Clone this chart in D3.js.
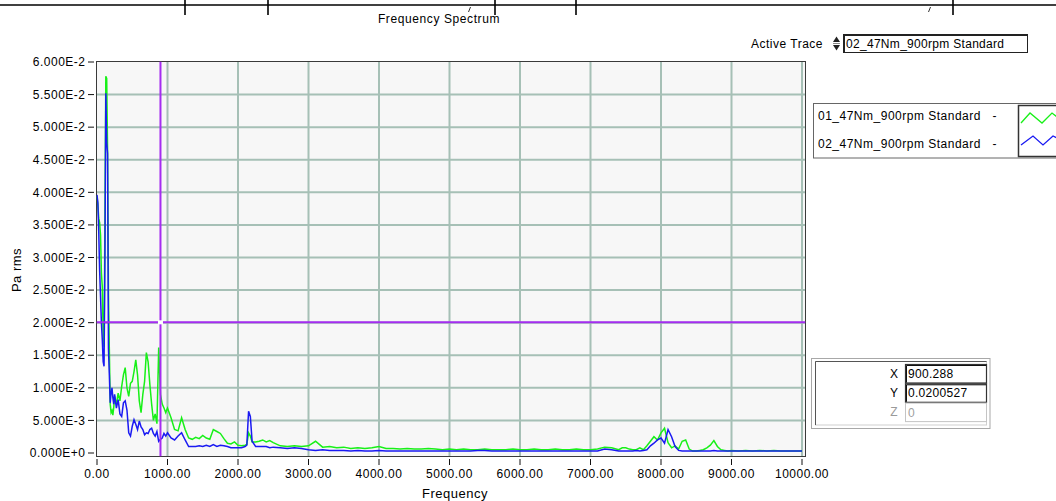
<!DOCTYPE html>
<html><head><meta charset="utf-8">
<script src="https://cdn.jsdelivr.net/npm/d3@7"></script>
<style>
html,body{margin:0;padding:0;background:#fff;}
svg{display:block;font-family:"Liberation Sans",Arial,sans-serif;}
</style></head><body>
<svg id="c" width="1056" height="501"></svg>
<script>
// ---------- data ----------
const freqHz = [
0,12.5,25,37.5,50,62.5,75,87.5,100,112.5,125,137.5,150,162.5,175,187.5,200,212.5,225,237.5,
250,275,300,325,350,375,400,425,450,475,500,525,550,575,600,625,650,675,700,725,750,775,800,825,850,875,900,925,950,975,
1000,1050,1100,1150,1200,1250,1300,1350,1400,1450,1500,1550,1600,1650,1700,1750,1800,1850,1900,1950,2000,2050,2100,2125,2150,2175,2200,2250,2300,2350,2400,2450,
2500,2600,2700,2800,2900,3000,3100,3200,3300,3400,3500,3600,3700,3800,3900,4000,4100,4200,4300,4400,4500,4600,4700,4800,4900,
5000,5100,5200,5300,5400,5500,5600,5700,5800,5900,6000,6100,6200,6300,6400,6500,6600,6700,6800,6900,7000,7100,7200,7300,
7400,7450,7500,7550,7600,7650,7700,7750,7800,7850,7900,7950,8000,8050,8100,8150,8200,8250,8300,8350,8400,8450,8500,8550,8600,8650,8700,8750,8800,8850,8900,8950,
9000,9100,9200,9300,9400,9500,9600,9700,9800,9900,10000];

// 01_47Nm_900rpm Standard (green)
const trace01 = [
0.0394,0.0380,0.0360,0.0353,0.0335,0.0276,0.0255,0.0180,0.0163,0.0360,0.0578,0.0575,0.0465,0.0246,0.0159,0.0075,0.0062,0.0065,0.0058,0.0070,
0.0087,0.0075,0.0092,0.0080,0.0102,0.0120,0.0131,0.0100,0.0087,0.0107,0.0110,0.0125,0.0143,0.0120,0.0080,0.0062,0.0090,0.0110,0.0154,0.0140,0.0105,0.0075,0.0050,0.0060,0.0045,0.0162,0.0090,0.0075,0.0069,0.0062,
0.0069,0.0054,0.0036,0.0034,0.0054,0.0036,0.0023,0.0021,0.0024,0.0022,0.0027,0.0023,0.0021,0.0036,0.0033,0.0030,0.0022,0.0015,0.0014,0.0017,0.0012,0.0011,0.0012,0.0013,0.0031,0.0026,0.0017,0.0017,0.0018,0.0020,0.0017,0.0019,
0.0016,0.0011,0.0010,0.0011,0.0010,0.0011,0.0018,0.0009,0.0010,0.0008,0.0009,0.0007,0.0008,0.0007,0.0008,0.0010,0.0007,0.0007,0.0006,0.0007,0.0006,0.0006,0.0007,0.0006,0.0005,
0.0006,0.0005,0.0006,0.0005,0.0005,0.0006,0.0005,0.0005,0.0005,0.0006,0.0005,0.0005,0.0006,0.0005,0.0005,0.0006,0.0005,0.0005,0.0006,0.0005,0.0005,0.0006,0.0009,0.0008,
0.0005,0.0008,0.0008,0.0006,0.0005,0.0005,0.0008,0.0005,0.0011,0.0018,0.0025,0.0020,0.0031,0.0038,0.0016,0.0008,0.0011,0.0006,0.0018,0.0020,0.0006,0.0003,0.0003,0.0004,0.0005,0.0008,0.0012,0.0019,0.0010,0.0005,0.0004,0.0003,
0.0004,0.0003,0.0004,0.0003,0.0004,0.0003,0.0004,0.0003,0.0003,0.0003,0.0003];

// 02_47Nm_900rpm Standard (blue)
const trace02 = [
0.0396,0.0384,0.0338,0.0280,0.0240,0.0200,0.0174,0.0140,0.0133,0.0300,0.0552,0.0476,0.0460,0.0160,0.0120,0.0077,0.0092,0.0100,0.0085,0.0075,
0.0090,0.0069,0.0082,0.0060,0.0056,0.0077,0.0080,0.0066,0.0031,0.0026,0.0041,0.0051,0.0044,0.0036,0.0049,0.0040,0.0036,0.0028,0.0031,0.0030,0.0036,0.0038,0.0030,0.0026,0.0033,0.0018,0.0021,0.0023,0.0030,0.0026,
0.0031,0.0023,0.0020,0.0026,0.0031,0.0020,0.0010,0.0010,0.0010,0.0011,0.0010,0.0012,0.0010,0.0013,0.0010,0.0012,0.0011,0.0010,0.0008,0.0008,0.0008,0.0008,0.0010,0.0012,0.0064,0.0056,0.0018,0.0010,0.0010,0.0010,0.0010,0.0008,
0.0009,0.0008,0.0007,0.0008,0.0007,0.0005,0.0004,0.0005,0.0004,0.0004,0.0004,0.0003,0.0004,0.0003,0.0003,0.0004,0.0003,0.0003,0.0003,0.0003,0.0003,0.0003,0.0003,0.0003,0.0003,
0.0003,0.0003,0.0003,0.0003,0.0004,0.0004,0.0003,0.0003,0.0003,0.0003,0.0003,0.0003,0.0003,0.0003,0.0003,0.0003,0.0003,0.0003,0.0003,0.0003,0.0003,0.0003,0.0006,0.0005,
0.0003,0.0003,0.0003,0.0003,0.0003,0.0004,0.0003,0.0004,0.0005,0.0011,0.0015,0.0020,0.0023,0.0015,0.0036,0.0025,0.0010,0.0004,0.0003,0.0003,0.0003,0.0003,0.0003,0.0003,0.0003,0.0003,0.0003,0.0004,0.0003,0.0003,0.0003,0.0003,
0.0003,0.0003,0.0003,0.0003,0.0003,0.0003,0.0003,0.0003,0.0003,0.0003,0.0003];

const seriesNames = ["01_47Nm_900rpm Standard", "02_47Nm_900rpm Standard"];
const seriesColors = ["#18f018", "#1a1af2"];
const xTicks = [0,1000,2000,3000,4000,5000,6000,7000,8000,9000,10000];
const xTickLabels = ["0.00","1000.00","2000.00","3000.00","4000.00","5000.00","6000.00","7000.00","8000.00","9000.00","10000.00"];
const yTicks = [0,0.005,0.01,0.015,0.02,0.025,0.03,0.035,0.04,0.045,0.05,0.055,0.06];
const yTickLabels = ["0.000E+0","5.000E-3","1.000E-2","1.500E-2","2.000E-2","2.500E-2","3.000E-2","3.500E-2","4.000E-2","4.500E-2","5.000E-2","5.500E-2","6.000E-2"];
const cursorX = 900.288, cursorY = 0.0200527;
const cursorText = ["900.288", "0.0200527", "0"];

// ---------- drawing ----------
const svg = d3.select("#c");
const FS = "12px", LS = "0.5px";

// header artefacts (table edge above the chart)
svg.append("line").attr("x1",0).attr("x2",1056).attr("y1",5).attr("y2",5).attr("stroke","#000").attr("stroke-width",1.6);
[185,268,495,576,953].forEach(v => svg.append("line").attr("x1",v).attr("x2",v).attr("y1",0).attr("y2",15).attr("stroke","#000").attr("stroke-width",1.6));
[469,929].forEach(v => svg.append("line").attr("x1",v+1.5).attr("x2",v-0.5).attr("y1",7).attr("y2",12).attr("stroke","#333").attr("stroke-width",1));

const x = d3.scaleLinear().domain([0,10000]).range([97,802]);
const y = d3.scaleLinear().domain([0,0.06]).range([453,62]);
const PL = 96.5, PT = 61.5, PR = 805.5, PB = 456.5;

// title
svg.append("text").attr("x",439).attr("y",23).attr("text-anchor","middle")
  .style("font-size",FS).style("letter-spacing","0.6px").attr("fill","#000").text("Frequency Spectrum");

// plot background
svg.append("rect").attr("x",PL).attr("y",PT).attr("width",PR-PL).attr("height",PB-PT).attr("fill","#f7f7f7");

// grid
const grid = svg.append("g").attr("stroke","#a6c0b6").attr("stroke-width",2);
xTicks.filter(t => t > 0).forEach(t => grid.append("line").attr("x1",x(t)).attr("x2",x(t)).attr("y1",PT).attr("y2",PB));
yTicks.filter(t => t > 0 && t < 0.06).forEach(t => grid.append("line").attr("x1",PL).attr("x2",PR).attr("y1",y(t)).attr("y2",y(t)));

// frame
svg.append("rect").attr("x",PL).attr("y",PT).attr("width",PR-PL).attr("height",PB-PT)
  .attr("fill","none").attr("stroke","#3a3a3a").attr("stroke-width",1);

// axes: y
const yAxis = svg.append("g");
yTicks.forEach((t,i) => {
  yAxis.append("line").attr("x1",88).attr("x2",94).attr("y1",y(t)).attr("y2",y(t)).attr("stroke","#111").attr("stroke-width",1);
  yAxis.append("text").attr("x",85.5).attr("y",y(t)+4.2).attr("text-anchor","end")
    .style("font-size",FS).style("letter-spacing",LS).attr("fill","#000").text(yTickLabels[i]);
});
// axes: x
const xAxis = svg.append("g");
xTicks.forEach((t,i) => {
  xAxis.append("line").attr("x1",x(t)).attr("x2",x(t)).attr("y1",459).attr("y2",465).attr("stroke","#111").attr("stroke-width",1);
  xAxis.append("text").attr("x",x(t)).attr("y",477.5).attr("text-anchor","middle")
    .style("font-size",FS).style("letter-spacing",LS).attr("fill","#000").text(xTickLabels[i]);
});
svg.append("text").attr("x",455).attr("y",498).attr("text-anchor","middle")
  .style("font-size","13px").style("letter-spacing","0.5px").text("Frequency");
svg.append("text").attr("transform","translate(21,270) rotate(-90)").attr("text-anchor","middle")
  .style("font-size","13px").style("letter-spacing","0.5px").text("Pa rms");

// series
const clip = svg.append("clipPath").attr("id","pc").append("rect").attr("x",PL).attr("y",PT).attr("width",PR-PL).attr("height",PB-PT);
const line = d3.line().x((d,i) => x(freqHz[i])).y(d => y(d));
const plotG = svg.append("g").attr("clip-path","url(#pc)");
[trace01, trace02].forEach((s,k) => {
  plotG.append("path").datum(s).attr("d",line).attr("fill","none")
    .attr("stroke",seriesColors[k]).attr("stroke-width",1.5).attr("stroke-linejoin","miter");
});

// cursor
const cx = x(cursorX), cy = y(cursorY);
plotG.append("line").attr("x1",cx).attr("x2",cx).attr("y1",PT).attr("y2",PB).attr("stroke","#a52cf0").attr("stroke-width",2);
plotG.append("line").attr("x1",PL).attr("x2",PR).attr("y1",cy).attr("y2",cy).attr("stroke","#a52cf0").attr("stroke-width",2);
plotG.append("rect").attr("x",cx-2.5).attr("y",cy-2).attr("width",5).attr("height",4).attr("fill","#ffffff");

// active trace control
svg.append("text").attr("x",751).attr("y",47.5).style("font-size",FS).style("letter-spacing",LS).text("Active Trace");
svg.append("path").attr("d","M833,42 L840,42 L836.5,36.5 Z").attr("fill","#222");
svg.append("path").attr("d","M833,45 L840,45 L836.5,50.5 Z").attr("fill","#222");
svg.append("line").attr("x1",833).attr("x2",840).attr("y1",43.5).attr("y2",43.5).attr("stroke","#888").attr("stroke-width",1);
svg.append("rect").attr("x",843.5).attr("y",34.5).attr("width",184).attr("height",18).attr("fill","#fff").attr("stroke","#222").attr("stroke-width",1);
svg.append("line").attr("x1",844).attr("x2",1027).attr("y1",35.5).attr("y2",35.5).attr("stroke","#222");
svg.append("line").attr("x1",844.5).attr("x2",844.5).attr("y1",35).attr("y2",52).attr("stroke","#222");
svg.append("text").attr("x",846).attr("y",47.5).style("font-size",FS).style("letter-spacing","0.3px").text(seriesNames[1]);

// legend
svg.append("rect").attr("x",813.5).attr("y",103.5).attr("width",250).attr("height",54.5).attr("fill","#fff").attr("stroke","#666").attr("stroke-width",1);
seriesNames.forEach((n,i) => {
  svg.append("text").attr("x",818).attr("y",120 + i*27.5).style("font-size",FS).style("letter-spacing",LS).text(n + "\u00a0\u00a0\u00a0-");
});
svg.append("rect").attr("x",1018.5).attr("y",105.5).attr("width",45).attr("height",51).attr("fill","#fff").attr("stroke","#333").attr("stroke-width",1.5);
svg.append("path").attr("d","M1021,123 L1030,113 L1042,123 L1052,113 L1057,117").attr("fill","none").attr("stroke",seriesColors[0]).attr("stroke-width",1.3);
svg.append("path").attr("d","M1021,145 L1033,136 L1043,145 L1053,136 L1057,138").attr("fill","none").attr("stroke",seriesColors[1]).attr("stroke-width",1.3);

// cursor readout panel
svg.append("rect").attr("x",811.5).attr("y",358.5).attr("width",178.5).attr("height",70).attr("fill","#fff").attr("stroke","#a8a8a8").attr("stroke-width",1);
svg.append("rect").attr("x",815.5).attr("y",361.5).attr("width",171).attr("height",63.5).attr("fill","none").attr("stroke","#cfcfcf").attr("stroke-width",1);
svg.append("path").attr("d","M815.5,425 L815.5,361.5 L986.5,361.5").attr("fill","none").attr("stroke","#555").attr("stroke-width",1);
["X","Y","Z"].forEach((lab,i) => {
  const by = 364.5 + i*19.3;
  const dis = i === 2;
  svg.append("text").attr("x",894).attr("y",by+13).attr("text-anchor","middle").style("font-size",FS)
    .attr("fill", dis ? "#9a9a9a" : "#000").text(lab);
  svg.append("rect").attr("x",905.5).attr("y",by).attr("width",81).attr("height",18.5).attr("fill","#fff")
    .attr("stroke", dis ? "#c4c4c4" : "#333").attr("stroke-width", dis ? 1 : 1.2);
  if (!dis) svg.append("path").attr("d",`M906.5,${by+18} L906.5,${by+1} L986,${by+1}`).attr("fill","none").attr("stroke","#111").attr("stroke-width",1);
  svg.append("text").attr("x",908).attr("y",by+13.5).style("font-size",FS).style("letter-spacing","0.3px")
    .attr("fill", dis ? "#a0a0a0" : "#000").text(cursorText[i]);
});
</script>
</body></html>
